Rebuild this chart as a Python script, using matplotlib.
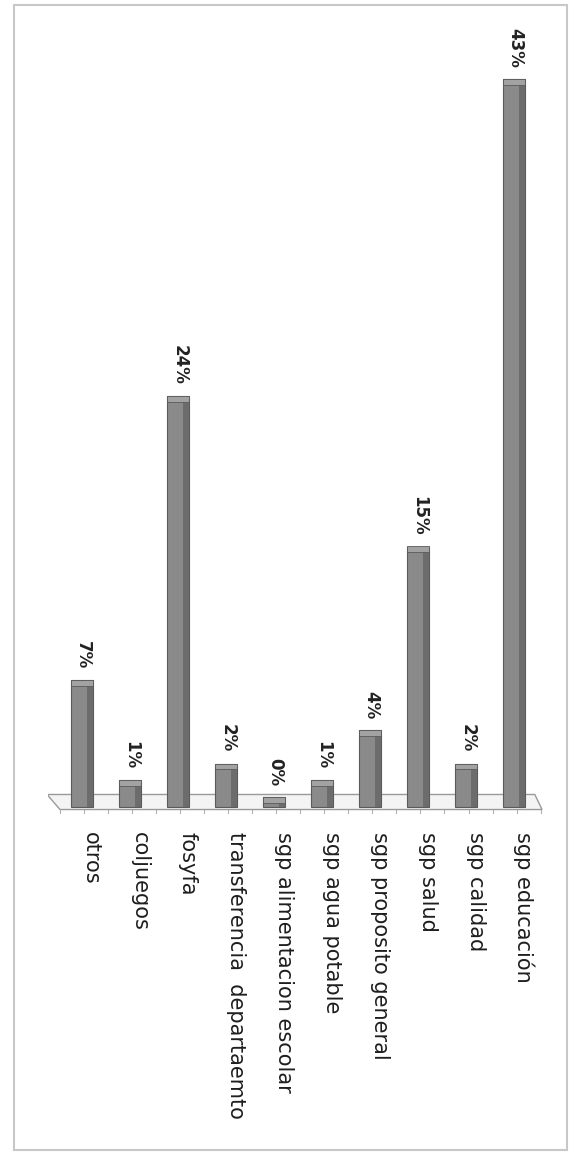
import matplotlib
matplotlib.use("Agg")
import matplotlib.pyplot as plt
from matplotlib.patches import Polygon, Rectangle
import numpy as np

categories = ["otros", "coljuegos", "fosyfa", "transferencia  departaemto",
              "sgp alimentacion escolar", "sgp agua potable", "sgp proposito general",
              "sgp salud", "sgp calidad", "sgp educación"]
values = [7, 1, 24, 2, 0, 1, 4, 15, 2, 43]
value_labels = ["7%", "1%", "24%", "2%", "0%", "1%", "4%", "15%", "2%", "43%"]

plt.rcParams['font.family'] = ['DejaVu Sans']

W, H = 570, 1156
fig = plt.figure(figsize=(W / 100, H / 100), dpi=100)

# axes placement (pixels -> figure fraction)
left_px, right_px = 48, 543
base_px = 797
px_per_unit = 16.7
ymin, ymax = -1.0, 46.0
bottom_px = base_px + (-ymin) * px_per_unit
top_px = base_px - ymax * px_per_unit
ax = fig.add_axes([left_px / W, 1 - bottom_px / H, (right_px - left_px) / W,
                   (bottom_px - top_px) / H])
ax.set_xlim(-0.7, 9.6)
ax.set_ylim(ymin, ymax)
ax.axis('off')

x = np.arange(len(categories))
depth = 0.6
bw = 0.46

# 3D floor
floor = Polygon([[-0.72, 0.15], [9.43, 0.15], [9.58, -0.75], [-0.45, -0.75]],
                closed=True, facecolor='#f4f4f4', edgecolor='#9a9a9a', lw=1.0, zorder=1)
ax.add_patch(floor)
for xi in np.arange(-0.45, 9.6, 0.5):
    ax.plot([xi, xi], [-0.75, -0.95], color='#b0b0b0', lw=0.8, zorder=1)

vals = np.array(values, dtype=float)
ax.bar(x, vals + depth, bottom=-depth, width=bw, color='#8a8a8a',
       edgecolor='#5a5a5a', linewidth=0.8, zorder=3)
# right side shading
ax.bar(x + bw / 2 - 0.06, vals + depth, bottom=-depth, width=0.12, color='#6c6c6c',
       linewidth=0, zorder=4)
# top cap
ax.bar(x, np.full_like(vals, 0.35), bottom=vals - 0.35, width=bw, color='#a2a2a2',
       edgecolor='#5a5a5a', linewidth=0.6, zorder=5)

for xi, v, lab in zip(x, vals, value_labels):
    ax.annotate(lab, (xi, v), xytext=(1, 8), textcoords='offset points',
                rotation=-90, ha='center', va='bottom', fontsize=12,
                fontweight='bold', color='#222222', zorder=6)

for xi, lab in zip(x, categories):
    ax.annotate(lab, (xi, ymin), xytext=(7, -13), textcoords='offset points',
                rotation=-90, ha='center', va='top', fontsize=15,
                color='#1e1e1e', annotation_clip=False)

# faint scan frame
fig.add_artist(Rectangle((14 / W, 1 - 1150 / H), (567 - 14) / W, (1150 - 5) / H,
                         transform=fig.transFigure, fill=False,
                         edgecolor='#c8c8c8', lw=1.5))

fig.savefig("out.png", dpi=100, facecolor='white')
